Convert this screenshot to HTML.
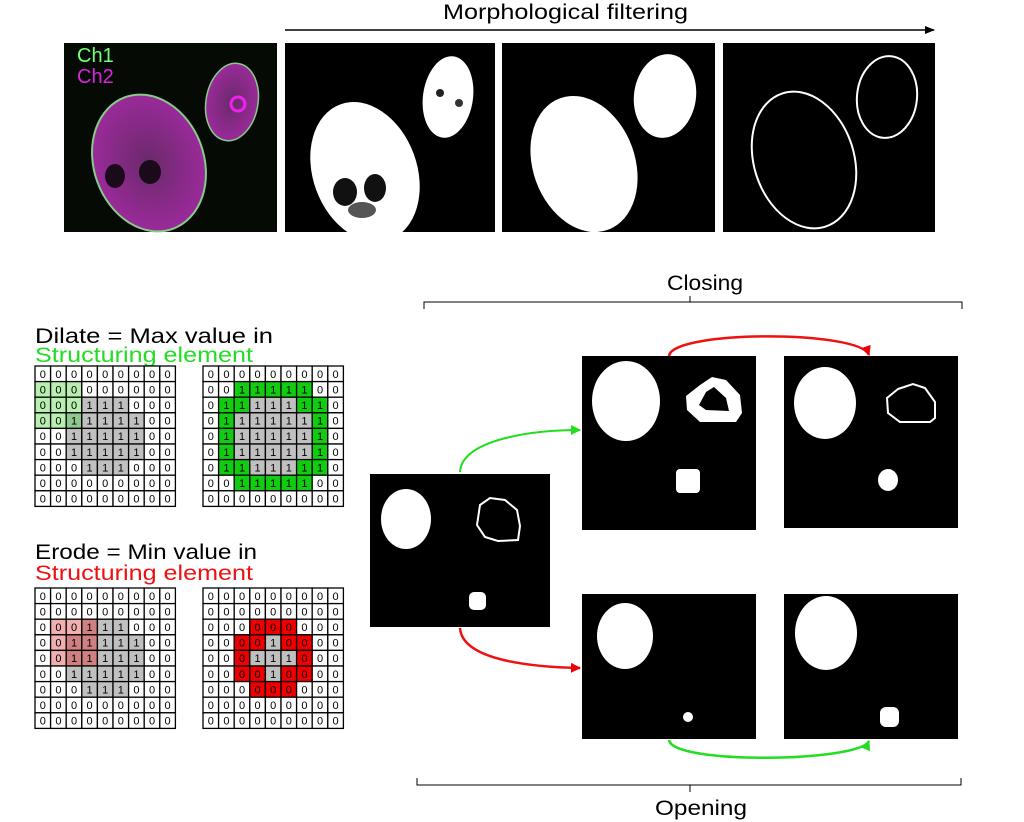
<!DOCTYPE html>
<html><head><meta charset="utf-8"><style>
body{margin:0;background:#fff;width:1024px;height:822px;overflow:hidden;font-family:"Liberation Sans",sans-serif}
svg{position:absolute;left:0;top:0}
</style></head><body>
<svg width="1024" height="822" viewBox="0 0 1024 822" xmlns="http://www.w3.org/2000/svg">
<defs>
<marker id="ak" markerWidth="10" markerHeight="8" refX="9" refY="4" orient="auto" markerUnits="userSpaceOnUse"><path d="M0,0 L10,4 L0,8 z" fill="#000"/></marker>
<marker id="ar" markerWidth="10" markerHeight="10" refX="9" refY="5" orient="auto" markerUnits="userSpaceOnUse"><path d="M0,0 L10,5 L0,10 z" fill="#e00"/></marker>
<marker id="ag" markerWidth="10" markerHeight="10" refX="9" refY="5" orient="auto" markerUnits="userSpaceOnUse"><path d="M0,0 L10,5 L0,10 z" fill="#2d2"/></marker>
<radialGradient id="mg" cx="0.5" cy="0.5" r="0.5"><stop offset="0" stop-color="#6a2a6a"/><stop offset="1" stop-color="#9a2a9a"/></radialGradient>
</defs>
<text x="443" y="19" font-size="21" textLength="245" lengthAdjust="spacingAndGlyphs">Morphological filtering</text>
<line x1="285" y1="30" x2="934" y2="30" stroke="#000" stroke-width="1.5" marker-end="url(#ak)"/>
<!-- panel 1 -->
<rect x="64" y="43" width="213" height="189" fill="#050a05"/>
<g transform="rotate(-20 149 163)"><ellipse cx="149" cy="163" rx="55" ry="70" fill="url(#mg)" stroke="#8c8" stroke-width="2"/></g>
<ellipse cx="115" cy="176" rx="10" ry="12" fill="#1a0a1a"/><ellipse cx="150" cy="172" rx="11" ry="12" fill="#1a0a1a"/>
<ellipse cx="232" cy="102" rx="26" ry="39" fill="url(#mg)" stroke="#8c8" stroke-width="1.5" transform="rotate(10 232 102)"/>
<circle cx="238" cy="104" r="7" fill="none" stroke="#e2e" stroke-width="3"/>
<text x="77" y="62" font-size="20" fill="#7f7">Ch1</text>
<text x="77" y="83" font-size="20" fill="#d2d">Ch2</text>
<!-- panel 2 -->
<rect x="285" y="43" width="210" height="189" fill="#000"/>
<ellipse cx="365" cy="172" rx="52" ry="72" fill="#fff" transform="rotate(-20 365 172)"/>
<ellipse cx="345" cy="192" rx="12" ry="14" fill="#111"/><ellipse cx="375" cy="188" rx="11" ry="14" fill="#111"/>
<ellipse cx="362" cy="210" rx="14" ry="8" fill="#555"/>
<ellipse cx="448" cy="97" rx="25" ry="41" fill="#fff" transform="rotate(8 448 97)"/>
<circle cx="440" cy="93" r="4" fill="#222"/><circle cx="459" cy="103" r="4" fill="#333"/>
<!-- panel 3 -->
<rect x="502" y="43" width="213" height="189" fill="#000"/>
<ellipse cx="584" cy="164" rx="51" ry="70" fill="#fff" transform="rotate(-20 584 164)"/>
<ellipse cx="665" cy="96" rx="31" ry="42" fill="#fff" transform="rotate(8 665 96)"/>
<!-- panel 4 -->
<rect x="723" y="43" width="212" height="189" fill="#000"/>
<ellipse cx="804" cy="160" rx="50" ry="70" fill="none" stroke="#fff" stroke-width="2" transform="rotate(-18 804 160)"/>
<ellipse cx="887" cy="97" rx="30" ry="41" fill="none" stroke="#fff" stroke-width="2" transform="rotate(6 887 97)"/>

<!-- text left -->
<text x="35" y="343" font-size="21" textLength="238" lengthAdjust="spacingAndGlyphs">Dilate = Max value in</text>
<text x="35" y="362" font-size="21" fill="#2d2" textLength="218" lengthAdjust="spacingAndGlyphs">Structuring element</text>
<text x="35" y="559" font-size="21" textLength="222" lengthAdjust="spacingAndGlyphs">Erode = Min value in</text>
<text x="35" y="580" font-size="21" fill="#e11" textLength="218" lengthAdjust="spacingAndGlyphs">Structuring element</text>
<g id="grids" font-size="11" font-family="Liberation Sans" text-anchor="middle"></g>

<!-- brackets -->
<text x="667" y="290" font-size="21" textLength="76" lengthAdjust="spacingAndGlyphs">Closing</text>
<path d="M424,309 V302 H962 V309" fill="none" stroke="#000" stroke-width="1"/>
<line x1="690" y1="296" x2="690" y2="302" stroke="#000"/>
<text x="655" y="815" font-size="21" textLength="92" lengthAdjust="spacingAndGlyphs">Opening</text>
<path d="M417,778 V785 H961 V778" fill="none" stroke="#000" stroke-width="1"/>
<line x1="690" y1="785" x2="690" y2="792" stroke="#000"/>

<!-- source -->
<rect x="370" y="474" width="180" height="153" fill="#000"/>
<ellipse cx="406" cy="519" rx="25" ry="30" fill="#fff"/>
<path d="M480,505 L490,498 L505,500 L517,510 L520,526 L518,540 L498,541 L485,537 L477,525 Z" fill="none" stroke="#fff" stroke-width="2"/>
<rect x="469" y="592" width="17" height="18" rx="5" fill="#fff"/>
<!-- top mid -->
<rect x="582" y="356" width="174" height="174" fill="#000"/>
<ellipse cx="626" cy="401" rx="34" ry="40" fill="#fff"/>
<path d="M700,385 L712,377 L726,380 L740,395 L742,413 L736,422 L700,422 L687,410 L686,396 Z" fill="#fff"/>
<path d="M706,392 L714,387 L726,398 L729,411 L706,410 L699,405 Z" fill="#000"/>
<rect x="676" y="469" width="24" height="24" rx="4" fill="#fff"/>
<!-- top right -->
<rect x="784" y="356" width="174" height="172" fill="#000"/>
<ellipse cx="825" cy="403" rx="31" ry="36" fill="#fff"/>
<path d="M898,389 L913,384 L925,388 L935,402 L935,418 L930,422 L900,422 L888,413 L887,398 Z" fill="none" stroke="#fff" stroke-width="2"/>
<ellipse cx="888" cy="480" rx="10" ry="11" fill="#fff"/>
<!-- bottom mid -->
<rect x="582" y="594" width="174" height="145" fill="#000"/>
<ellipse cx="625" cy="636" rx="28" ry="33" fill="#fff"/>
<circle cx="688" cy="717" r="5" fill="#fff"/>
<!-- bottom right -->
<rect x="784" y="594" width="174" height="145" fill="#000"/>
<ellipse cx="826" cy="633" rx="31" ry="37" fill="#fff"/>
<rect x="880" y="707" width="19" height="20" rx="6" fill="#fff"/>

<!-- arrows -->
<path d="M460,472 C462,440 530,430 580,430" fill="none" stroke="#2d2" stroke-width="2" marker-end="url(#ag)"/>
<path d="M669,356 C672,330 860,330 869,355" fill="none" stroke="#e11" stroke-width="2.5" marker-end="url(#ar)"/>
<path d="M460,628 C462,660 530,667 580,668" fill="none" stroke="#e11" stroke-width="2.5" marker-end="url(#ar)"/>
<path d="M669,740 C672,765 860,762 869,741" fill="none" stroke="#2d2" stroke-width="2.5" marker-end="url(#ag)"/>
</svg>
<script>
(function(){
var g=document.getElementById('grids');var ns="http://www.w3.org/2000/svg";
function ones(rows){var m=[];for(var r=0;r<9;r++){m.push([0,0,0,0,0,0,0,0,0]);}rows.forEach(function(a){for(var c=a[1];c<=a[2];c++)m[a[0]][c]=1;});return m;}
var base=ones([[2,3,5],[3,2,6],[4,2,6],[5,2,6],[6,3,5]]);
function grid(x0,y0,vals,col){var s=15.6;
for(var r=0;r<9;r++)for(var c=0;c<9;c++){var v=vals[r][c],f=col(r,c,v);
var rc=document.createElementNS(ns,'rect');rc.setAttribute('x',x0+c*s);rc.setAttribute('y',y0+r*s);rc.setAttribute('width',s);rc.setAttribute('height',s);rc.setAttribute('fill',f);rc.setAttribute('stroke','#000');rc.setAttribute('stroke-width','1.3');g.appendChild(rc);
var t=document.createElementNS(ns,'text');t.setAttribute('x',x0+c*s+s/2);t.setAttribute('y',y0+r*s+s/2+4);t.textContent=v;g.appendChild(t);}}
grid(35,366,base,function(r,c,v){var hl=r>=1&&r<=3&&c<=2;if(hl)return v?'#8fc88f':'#b8eeb0';return v?'#c0c0c0':'#fff';});
var dR=ones([[1,2,6],[2,1,7],[3,1,7],[4,1,7],[5,1,7],[6,1,7],[7,2,6]]);
grid(203,366,dR,function(r,c,v){if(!v)return '#fff';return base[r][c]?'#c0c0c0':'#11cc11';});
grid(35,588,base,function(r,c,v){var hl=r>=2&&r<=4&&c>=1&&c<=3;if(hl)return v?'#d08080':'#f0b0b0';return v?'#c0c0c0':'#fff';});
var eR=ones([[3,4,4],[4,3,5],[5,4,4]]);
grid(203,588,eR,function(r,c,v){if(v)return '#c0c0c0';return base[r][c]?'#ee0000':'#fff';});
})();
</script>
</body></html>
